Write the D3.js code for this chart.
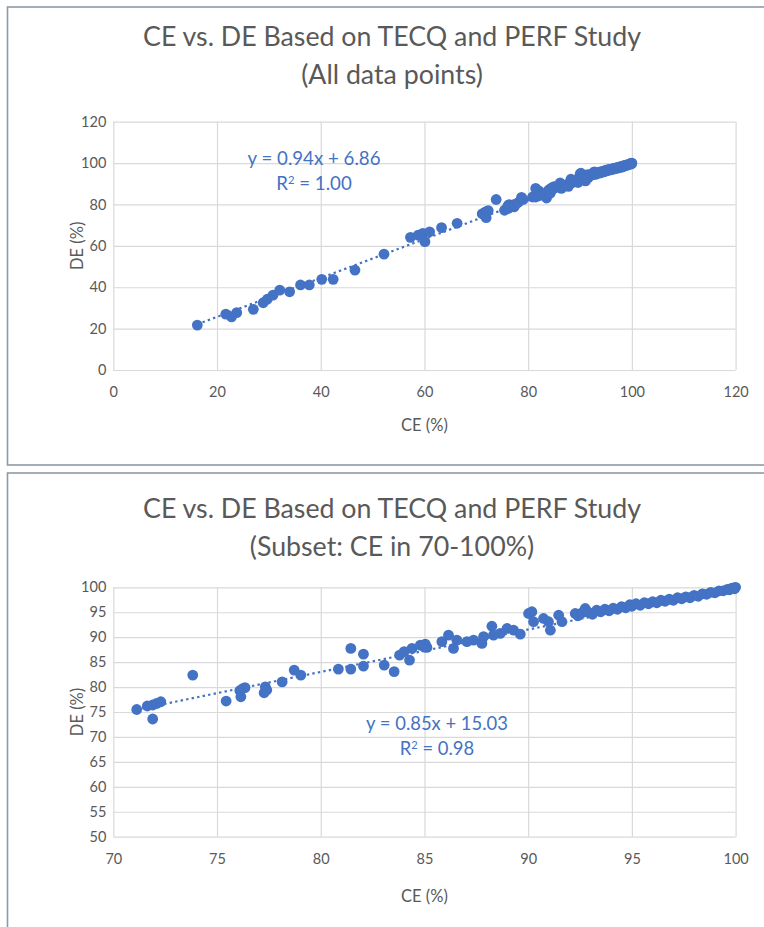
<!DOCTYPE html>
<html>
<head>
<meta charset="utf-8">
<script src="https://cdn.jsdelivr.net/npm/d3@7"></script>
<style>
  body { margin: 0; background: #fff; }
  svg { display: block; }
  text { font-family: Lato, "Open Sans", sans-serif; }
</style>
</head>
<body>
<svg id="chart" width="764" height="927"></svg>
<script>
// Samples with CE below 70 %
const ceLow = [16.2, 21.7, 22.8, 23.8, 27.0, 28.9, 29.7, 30.8, 32.1, 34.0, 36.1, 37.8, 40.2, 42.4, 46.6, 52.2, 57.3, 58.8, 59.7, 60.1, 61.0, 63.3, 66.3];
const deLow = [21.7, 27.0, 25.7, 27.7, 29.3, 32.5, 34.2, 36.2, 38.6, 37.8, 41.1, 41.1, 43.8, 43.8, 48.3, 56.0, 64.1, 65.2, 66.0, 62.0, 66.8, 68.8, 70.9];

// Samples with CE from 70 % to 100 %
const ceHigh = [71.13, 71.64, 71.9, 72.09, 72.29, 71.9, 73.83, 75.44, 76.15, 76.24, 76.35, 76.1, 77.27, 77.33, 77.4, 78.14, 78.72, 79.04,
  80.85, 81.45, 81.45, 82.06, 82.06, 83.06, 83.54, 83.8, 84.02, 84.28, 84.4, 84.8, 85.04, 85.12, 85.0, 85.84, 86.16, 86.4, 86.56,
  87.05, 87.37, 87.77, 87.85, 88.25, 88.33, 88.65, 88.98, 89.3, 89.62, 90.02, 90.18, 90.26, 90.74, 91.07, 90.98, 91.47, 91.63,
  92.27, 92.75, 92.4, 92.6, 92.9, 93.1, 93.3, 93.5, 93.7, 93.9, 94.1, 94.3, 94.5, 94.7, 94.9, 95.0, 95.2, 95.4, 95.6, 95.8,
  96.0, 96.2, 96.4, 96.6, 96.8, 97.0, 97.2, 97.4, 97.6, 97.8, 98.0, 98.2, 98.4, 98.6, 98.8, 99.0, 99.2, 99.4, 99.6, 99.7,
  99.8, 99.9, 100.0, 99.95];
const deHigh = [75.5, 76.2, 76.4, 76.7, 77.05, 73.6, 82.4, 77.2, 78.05, 79.7, 79.9, 79.3, 78.85, 80.05, 79.4, 81.05, 83.4, 82.4,
  83.6, 83.6, 87.75, 86.6, 84.2, 84.4, 83.1, 86.4, 87.1, 85.4, 87.75, 88.4, 88.6, 87.95, 88.0, 89.1, 90.4, 87.75, 89.4,
  89.1, 89.4, 88.75, 90.1, 92.2, 90.4, 90.75, 91.75, 91.4, 90.6, 94.75, 95.1, 93.1, 93.75, 91.4, 93.1, 94.4, 93.1,
  94.75, 95.75, 94.3, 94.9, 95.0, 94.6, 95.4, 95.1, 95.6, 95.3, 95.8, 95.6, 96.1, 95.9, 96.5, 96.2, 96.7, 96.4, 96.9, 96.7,
  97.1, 96.9, 97.4, 97.2, 97.6, 97.4, 97.9, 97.7, 98.1, 97.9, 98.4, 98.2, 98.7, 98.6, 99.0, 98.9, 99.3, 99.3, 99.6, 99.5,
  99.8, 99.9, 100.0, 99.7];

// Linear trendlines (slope, intercept) and their R²
const trendAll = [0.94, 6.86];
const r2All = "1.00";
const trendSubset = [0.85, 15.03];
const r2Subset = "0.98";

// Axis ticks
const allXTicks = [0, 20, 40, 60, 80, 100, 120];
const allYTicks = [0, 20, 40, 60, 80, 100, 120];
const subXTicks = [70, 75, 80, 85, 90, 95, 100];
const subYTicks = [50, 55, 60, 65, 70, 75, 80, 85, 90, 95, 100];

const svg = d3.select("#chart");
const BLUE = "#4472C4";
const GREY_TEXT = "#595959";
const GRID = "#d9d9d9";

// Set a text's font size so that it spans a given width; returns the size
function fitWidth(sel, width) {
  const w = sel.node().getComputedTextLength();
  const fs = parseFloat(sel.attr("font-size")) * width / w;
  sel.attr("font-size", fs);
  return fs;
}

function drawPanel(opt) {
  const g = svg.append("g");

  // framed panel
  g.append("rect")
    .attr("x", 7.5).attr("y", opt.frameTop)
    .attr("width", 800).attr("height", opt.frameHeight)
    .attr("fill", "#fff").attr("stroke", "#8f99a6").attr("stroke-width", 1.6);

  const x = d3.scaleLinear().domain(opt.xDomain).range([113.3, 735.6]);
  const y = d3.scaleLinear().domain(opt.yDomain).range([opt.plotBottom, opt.plotTop]);
  const plotH = opt.plotBottom - opt.plotTop;
  const plotW = 735.6 - 113.3;

  // two-line title, both lines at the size that fits the first
  const t1 = g.append("text")
    .attr("x", 392).attr("y", opt.titleBase[0])
    .attr("text-anchor", "middle")
    .attr("font-size", 26).attr("fill", GREY_TEXT)
    .text(opt.titles[0]);
  const titleFs = fitWidth(t1, 498);
  g.append("text")
    .attr("x", 392).attr("y", opt.titleBase[1])
    .attr("text-anchor", "middle")
    .attr("font-size", titleFs).attr("fill", GREY_TEXT)
    .text(opt.titles[1]);

  // x axis with vertical gridlines
  const xa = g.append("g")
    .attr("transform", `translate(0,${opt.plotBottom})`)
    .call(d3.axisBottom(x).tickValues(opt.xTicks).tickSize(-plotH).tickPadding(17));
  // y axis with horizontal gridlines
  const ya = g.append("g")
    .attr("transform", "translate(113.3,0)")
    .call(d3.axisLeft(y).tickValues(opt.yTicks).tickSize(-plotW).tickPadding(7));
  [xa, ya].forEach(a => {
    a.select(".domain").remove();
    a.selectAll("line").attr("stroke", GRID).attr("stroke-width", 1.2);
    a.selectAll("text").attr("fill", GREY_TEXT).attr("font-size", 14.5)
      .attr("font-family", "Lato, 'Open Sans', sans-serif");
  });

  // axis titles
  g.append("text")
    .attr("x", 424.5).attr("y", opt.plotBottom + opt.xTitleOffset)
    .attr("text-anchor", "middle").attr("font-size", 16.5).attr("fill", GREY_TEXT)
    .text("CE (%)");
  g.append("text")
    .attr("transform", `translate(${opt.yTitleX},${(opt.plotTop + opt.plotBottom) / 2}) rotate(-90)`)
    .attr("text-anchor", "middle").attr("font-size", 16.5).attr("fill", GREY_TEXT)
    .text("DE (%)");

  // dotted trendline across the range of the data
  const [m, b] = opt.trend;
  const [x0, x1] = d3.extent(opt.ce);
  g.append("line")
    .attr("x1", x(x0)).attr("y1", y(m * x0 + b))
    .attr("x2", x(x1)).attr("y2", y(m * x1 + b))
    .attr("stroke", BLUE).attr("stroke-width", 2.2)
    .attr("stroke-dasharray", "2.4 3.2");

  // markers
  g.append("g").selectAll("circle")
    .data(d3.zip(opt.ce, opt.de))
    .join("circle")
    .attr("cx", d => x(d[0])).attr("cy", d => y(d[1]))
    .attr("r", 5.4).attr("fill", BLUE);

  // trendline equation
  const eq = g.append("text")
    .attr("x", opt.eqX).attr("y", opt.eqBase)
    .attr("text-anchor", "middle").attr("font-size", 16).attr("fill", BLUE)
    .text(`y = ${m.toFixed(2)}x + ${b.toFixed(2)}`);
  const eqFs = fitWidth(eq, opt.eqWidth);
  const r2 = g.append("text")
    .attr("x", opt.eqX).attr("y", opt.eqBase + 24.5)
    .attr("text-anchor", "middle").attr("font-size", eqFs).attr("fill", BLUE);
  r2.append("tspan").text("R");
  r2.append("tspan").attr("font-size", eqFs * 0.6).attr("dy", -6).text("2");
  r2.append("tspan").attr("dy", 6).text(" = " + opt.r2);
}

drawPanel({
  frameTop: 7, frameHeight: 458,
  titles: ["CE vs. DE Based on TECQ and PERF Study", "(All data points)"],
  titleBase: [46, 84],
  xDomain: [0, 120], yDomain: [0, 120],
  plotTop: 121.7, plotBottom: 370,
  xTicks: allXTicks, yTicks: allYTicks,
  xTitleOffset: 61, yTitleX: 83,
  ce: ceLow.concat(ceHigh), de: deLow.concat(deHigh),
  trend: trendAll, r2: r2All,
  eqX: 314, eqBase: 165, eqWidth: 133
});

drawPanel({
  frameTop: 473, frameHeight: 500,
  titles: ["CE vs. DE Based on TECQ and PERF Study", "(Subset: CE in 70-100%)"],
  titleBase: [518, 556],
  xDomain: [70, 100], yDomain: [50, 100],
  plotTop: 587.3, plotBottom: 836.7,
  xTicks: subXTicks, yTicks: subYTicks,
  xTitleOffset: 65, yTitleX: 83,
  ce: ceHigh, de: deHigh,
  trend: trendSubset, r2: r2Subset,
  eqX: 437, eqBase: 730, eqWidth: 142
});
</script>
</body>
</html>
